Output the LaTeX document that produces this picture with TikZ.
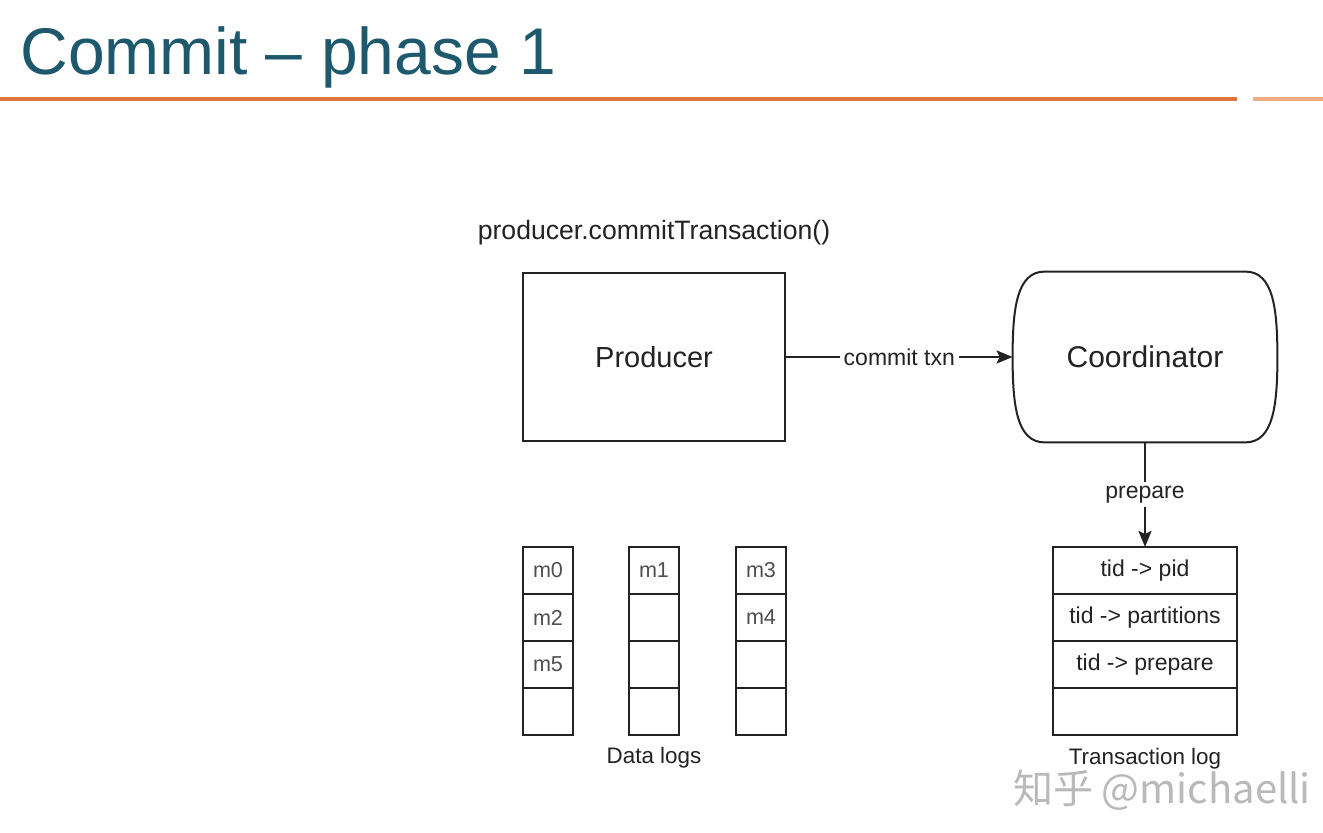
\documentclass[tikz,border=0pt]{standalone}
\usepackage{fontspec}
\setmainfont{Liberation Sans}
\newfontfamily\cjk{Noto Sans CJK SC}
\usepackage{tikz}
\usetikzlibrary{arrows.meta, positioning, calc}
\definecolor{titleteal}{RGB}{30,88,108}
\definecolor{rulered}{RGB}{222,120,58}
\definecolor{rulelight}{RGB}{240,172,130}
\definecolor{inkdark}{RGB}{35,35,35}
\definecolor{wmgray}{RGB}{185,185,185}
\tikzset{
  title/.style={anchor=base west, inner sep=0pt, text=titleteal,
    font=\fontsize{33}{38}\selectfont},
  box/.style={rectangle, draw=inkdark, fill=white, minimum width=131pt,
    minimum height=84pt, line width=1pt, text=inkdark,
    font=\fontsize{14.5}{17}\selectfont},
  coordbox/.style={rectangle, minimum width=132pt, minimum height=85pt,
    text=inkdark, font=\fontsize{15}{17}\selectfont},
  coordline/.style={draw=inkdark, line width=1pt},
  cell/.style={rectangle, draw=inkdark, minimum width=25pt,
    minimum height=23.5pt, inner sep=0pt, outer sep=0pt, line width=1pt},
  logcell/.style={rectangle, draw=inkdark, minimum width=92pt,
    minimum height=23.5pt, inner sep=0pt, outer sep=0pt, line width=1pt,
    text=inkdark, font=\fontsize{11.5}{13}\selectfont},
  celltext/.style={text=inkdark!80, font=\fontsize{10.8}{12}\selectfont},
  caption/.style={text=inkdark, font=\fontsize{13.3}{15}\selectfont},
  smallcap/.style={text=inkdark, font=\fontsize{11.2}{13}\selectfont},
  lbl/.style={fill=white, inner sep=2pt, text=inkdark,
    font=\fontsize{11.5}{13}\selectfont},
  watermark/.style={text=wmgray, font=\cjk\fontsize{20}{24}\selectfont},
  arrow/.style={-{Stealth[length=8pt, width=6.5pt, inset=1.5pt]},
    line width=1pt, color=inkdark}
}
\begin{document}
\begin{tikzpicture}[x=0.5pt, y=-0.5pt]
  \useasboundingbox[fill=white] (0,0) rectangle (1323,833);
  % title and rule
  \node[title] (title) at (20,75) {Commit \textendash{} phase 1};
  \draw[rulered, line width=2pt] (0,99) -- (1237,99);
  \draw[rulelight, line width=2pt] (1253,99) -- (1323,99);

  % producer and coordinator
  \node[caption] (call) at (654,233) {producer.commitTransaction()};
  \node[box] (prod) at (654,357) {Producer};
  \node[coordbox] (coord) at (1145,357) {Coordinator};
  \draw[coordline] ($(coord.north west)+(32,0)$) -- ($(coord.north east)+(-32,0)$)
       .. controls ($(coord.north east)+(-4,0)$) and ($(coord.east)+(0,-48)$) .. (coord.east)
       .. controls ($(coord.east)+(0,48)$) and ($(coord.south east)+(-4,0)$) .. ($(coord.south east)+(-32,0)$)
       -- ($(coord.south west)+(32,0)$)
       .. controls ($(coord.south west)+(4,0)$) and ($(coord.west)+(0,48)$) .. (coord.west)
       .. controls ($(coord.west)+(0,-48)$) and ($(coord.north west)+(4,0)$) .. cycle;

  % transaction log
  \foreach \i/\txt in {1/{tid -> pid}, 2/{tid -> partitions}, 3/{tid -> prepare}, 4/{}}
    \node[logcell] (tlog\i) at (1145,{523.5+47*\i}) {\txt};
  \node[smallcap] (txlbl) at (1145,759) {Transaction log};

  % data logs
  \foreach \c/\x in {1/548, 2/654, 3/761}
    \foreach \r in {1,...,4}
      \node[cell] (d\c\r) at (\x,{523.5+47*\r}) {};
  \foreach \m/\at in {m0/d11, m2/d12, m5/d13, m1/d21, m3/d31, m4/d32}
    \node[celltext] (\m) at (\at) {\m};
  \node[smallcap] (datalbl) at (654,758) {Data logs};

  % arrows
  \draw[arrow] (prod.east) -- node[lbl] {commit txn} (coord.west);
  \draw[arrow] (coord.south) -- node[lbl] {prepare} (tlog1.north);

  \node[watermark] (wm) at (1162,790) {知乎 @michaelli};
\end{tikzpicture}
\end{document}
